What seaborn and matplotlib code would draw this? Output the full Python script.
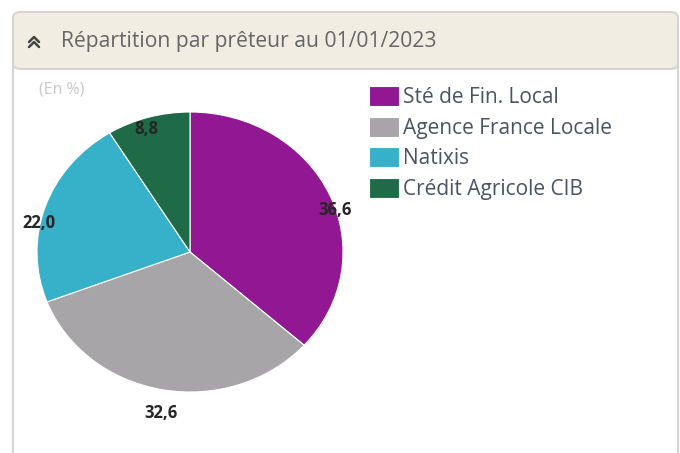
import matplotlib
matplotlib.use("Agg")
import matplotlib.pyplot as plt
import matplotlib.transforms as mtransforms
import seaborn as sns
from matplotlib.patches import FancyBboxPatch, Rectangle
from matplotlib.lines import Line2D

# Data
lenders = ["Sté de Fin. Local", "Agence France Locale", "Natixis", "Crédit Agricole CIB"]
shares = [36.6, 32.6, 22.0, 8.8]
colors = ["#921793", "#a7a5a8", "#37b0c9", "#1f6b47"]
title = "Répartition par prêteur au 01/01/2023"
unit = "(En %)"

sns.set_theme(style="white")
plt.rcParams["font.family"] = ["Open Sans", "DejaVu Sans"]

W, H = 680, 453
fig = plt.figure(figsize=(W / 100, H / 100), dpi=100)
fig.patch.set_facecolor("white")


def fx(px):
    return px / W


def fy(py):
    return 1 - py / H


# Panel frame
body = Rectangle((fx(13), fy(460)), fx(665), fy(40) - fy(460), transform=fig.transFigure,
                 facecolor="white", edgecolor="#d4d4d4", lw=1.5, zorder=-3)
fig.patches.append(body)
header = FancyBboxPatch((fx(13), fy(69)), fx(665), fy(12) - fy(69),
                        boxstyle="round,pad=0,rounding_size=0.012",
                        transform=fig.transFigure, facecolor="#f1ede2",
                        edgecolor="#d4d4d4", lw=1.5, zorder=-2)
fig.patches.append(header)

# Double chevron icon
for off in (0, 5):
    fig.lines.append(Line2D([fx(29), fx(34), fx(39)], [fy(47 - off), fy(42 - off), fy(47 - off)],
                            transform=fig.transFigure, color="#444444", lw=1.8, zorder=2))
fig.text(fx(61), fy(42), title, fontsize=15.2, color="#666666", va="center", ha="left")
fig.text(fx(39), fy(90), unit, fontsize=11.5, color="#c8c8c8", va="center", ha="left")

# Pie (slightly wider than tall, as in the reference)
rx, ry = 153, 140
lim = 1.25
cx, cy = 190, 252
ax = fig.add_axes([fx(cx - rx * lim), fy(cy + ry * lim), 2 * rx * lim / W, 2 * ry * lim / H])
labels = [f"{v:.1f}".replace(".", ",") for v in shares]
wedges, texts = ax.pie(shares, colors=colors, startangle=90, counterclock=False,
                       labels=labels, labeldistance=1.04,
                       wedgeprops=dict(linewidth=0.8, edgecolor="white"),
                       textprops=dict(fontsize=12, fontweight="bold", color="#262626"))
for t in texts:
    t.set_ha("center")
    t.set_va("top")
    t.set_transform(mtransforms.offset_copy(t.get_transform(), fig=fig, x=0, y=-6, units="points"))
ax.set_xlim(-lim, lim)
ax.set_ylim(-lim, lim)
ax.set_aspect("auto")
ax.axis("off")

# Legend
fig.legend(wedges, lenders, loc="upper left", bbox_to_anchor=(fx(350), fy(67)),
           frameon=False, fontsize=15, handlelength=1.45, handleheight=1.1,
           handletextpad=0.2, labelspacing=0.42, labelcolor="#4a5263")

fig.savefig("out.png", dpi=100)
